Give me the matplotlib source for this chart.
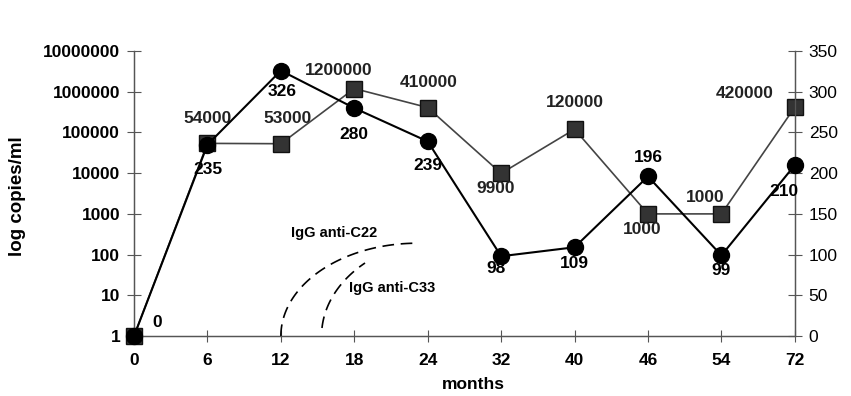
import numpy as np
import matplotlib
matplotlib.use("Agg")
import matplotlib.pyplot as plt

plt.rcParams['font.family'] = ['Liberation Sans', 'DejaVu Sans']

months = ["0", "6", "12", "18", "24", "32", "40", "46", "54", "72"]
viral_load = [1, 54000, 53000, 1200000, 410000, 9900, 120000, 1000, 1000, 420000]
alt_values = [0, 235, 326, 280, 239, 98, 109, 196, 99, 210]
viral_labels = ["", "54000", "53000", "1200000", "410000", "9900", "120000", "1000", "1000", "420000"]
alt_labels = ["0", "235", "326", "280", "239", "98", "109", "196", "99", "210"]
# label offsets in points (dx, dy)
viral_offsets = [(0, 0), (0, 18), (5, 18), (-11, 13), (1, 18), (-4, -11), (0, 19), (-4, -11), (-12, 12), (-36, 10)]
alt_offsets = [(17, 10), (0, -18), (1, -15), (0, -19), (0, -17), (-4, -9), (0, -12), (0, 14), (0, -11), (-8, -19)]
left_ticks = [1, 10, 100, 1000, 10000, 100000, 1000000, 10000000]
right_ticks = [0, 50, 100, 150, 200, 250, 300, 350]

# antibody curves (elliptic arcs: centre x, x-radius, height, start/end angle)
c22_xc, c22_a, c22_b, c22_t0, c22_t1 = 3.86, 1.86, 114, 0.0, np.pi / 2
c33_xc, c33_a, c33_b, c33_t0, c33_t1 = 4.318, 1.764, 120, 0.082, 0.844

FS = 12.5

fig = plt.figure(figsize=(8.51, 3.96), dpi=100)
ax = fig.add_axes([0.1575, 0.1515, 0.934 - 0.1575, 0.871 - 0.1515])
ax2 = ax.twinx()

x = np.arange(len(months))

ax.set_yscale('log')
ax.set_ylim(1, 1e7)
ax.set_xlim(0, len(months) - 1)
ax2.set_ylim(0, 350)

# viral load squares (left)
ax.plot(x, viral_load, color='#444444', lw=1.2, marker='s', ms=11,
        mfc='#333333', mec='#111111', clip_on=False, zorder=3)
for xi, v, lab, off in zip(x, viral_load, viral_labels, viral_offsets):
    if lab:
        ax.annotate(lab, (xi, v), xytext=off, textcoords='offset points',
                    ha='center', va='center', fontsize=FS, fontweight='bold', color='#222222')

# ALT circles (right)
ax2.plot(x, alt_values, color='black', lw=1.5, marker='o', ms=11.5,
         mfc='black', mec='black', clip_on=False, zorder=4)
for xi, v, lab, off in zip(x, alt_values, alt_labels, alt_offsets):
    ax2.annotate(lab, (xi, v), xytext=off, textcoords='offset points',
                 ha='center', va='center', fontsize=FS, fontweight='bold', color='black')

# dashed antibody curves
t = np.linspace(c22_t0, c22_t1, 60)
ax2.plot(c22_xc - c22_a * np.cos(t), c22_b * np.sin(t),
         ls=(0, (7, 4)), color='black', lw=1.2)
t2 = np.linspace(c33_t0, c33_t1, 40)
ax2.plot(c33_xc - c33_a * np.cos(t2), c33_b * np.sin(t2),
         ls=(0, (7, 4)), color='black', lw=1.2)
ax2.text(2.72, 126, "IgG anti-C22", ha='center', va='center', fontsize=10.5, fontweight='bold')
ax2.text(3.52, 59, "IgG anti-C33", ha='center', va='center', fontsize=10.5, fontweight='bold')

# axes styling
for a in (ax, ax2):
    a.spines['top'].set_visible(False)
    for s in ('left', 'right', 'bottom'):
        a.spines[s].set_color('#555555')
        a.spines[s].set_linewidth(0.9)

ax.set_xticks(x)
ax.set_xticklabels(months, fontsize=FS, fontweight='bold')
ax.tick_params(axis='x', direction='inout', length=8, width=0.8, color='#555555', pad=8)
ax.set_yticks(left_ticks)
ax.set_yticklabels([str(v) for v in left_ticks], fontsize=FS, fontweight='bold')
ax.yaxis.set_minor_locator(matplotlib.ticker.NullLocator())
ax.tick_params(axis='y', direction='inout', length=10, width=0.8, color='#555555', pad=5)
ax.set_xlabel("months", fontsize=FS, fontweight='bold', labelpad=1)
ax.xaxis.set_label_coords(0.513, -0.145)
ax.set_ylabel("log copies/ml", fontsize=13.5, fontweight='bold')
ax.yaxis.set_label_coords(-0.163, 0.49)

ax2.set_yticks(right_ticks)
ax2.set_yticklabels([str(v) for v in right_ticks], fontsize=FS)
ax2.tick_params(axis='y', direction='inout', length=10, width=0.8, color='#555555', pad=5)

fig.savefig("out.png", dpi=100)
